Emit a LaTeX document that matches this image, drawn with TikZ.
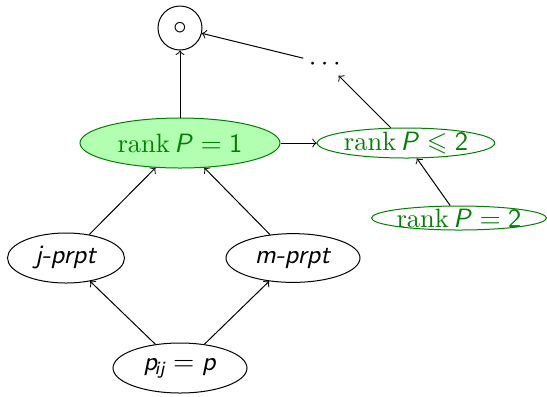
\documentclass[tikz,border=0pt]{standalone}
\usepackage{amsmath,amssymb}
\usetikzlibrary{shapes.geometric}
\definecolor{dgreen}{rgb}{0,0.5,0}
\definecolor{lgreen}{rgb}{0.7,1,0.7}
\newcommand{\si}[1]{\textsf{\itshape #1}}
\newcommand{\rankP}[2]{rank\,\si{P}\;$#1$\;\textsf{#2}}
\begin{document}
\begin{tikzpicture}[x=0.4pt,y=-0.4pt,
  font=\fontsize{10.6}{13}\selectfont,
  oval/.style={draw,ellipse,inner sep=0pt},
  goval/.style={draw=dgreen,ellipse,inner sep=0pt,text=dgreen},
  arr/.style={->,line width=0.4pt}]
\useasboundingbox (0,0) rectangle (547,396);
\node[draw,circle,minimum size=17.6pt,inner sep=0pt] (top) at (180,28) {$\circ$};
\node[inner sep=2pt] (dots) at (327,64) {$\cdots$};
\node[goval,fill=lgreen,minimum width=80pt,minimum height=20pt] (r1) at (180,143) {\rankP{=}{1}};
\node[goval,minimum width=71pt,minimum height=12pt,label={[text=dgreen,inner sep=0pt]center:\rankP{\leqslant}{2}}] (r12) at (406,143) {};
\node[goval,minimum width=70pt,minimum height=9.6pt,label={[text=dgreen,inner sep=0pt]center:\rankP{=}{2}}] (r2) at (459,218) {};
\node[oval,minimum width=46.8pt,minimum height=20pt] (j) at (66,258) {\si{j-prpt}};
\node[oval,minimum width=53.6pt,minimum height=19.5pt] (m) at (293,258) {\si{m-prpt}};
\node[oval,minimum width=53.6pt,minimum height=20pt] (p) at (180,368) {\si{p}$_{\!\si{ij}}$\;$=$\;\si{p}};
\draw[arr] (r1) -- (top);
\draw[arr] (dots) -- (top);
\draw[arr] (r12) -- (dots);
\draw[arr] (r1) -- (r12);
\draw[arr] (r2) -- (r12);
\draw[arr] (j) -- (r1);
\draw[arr] (m) -- (r1);
\draw[arr] (p) -- (j);
\draw[arr] (p) -- (m);
\end{tikzpicture}
\end{document}
